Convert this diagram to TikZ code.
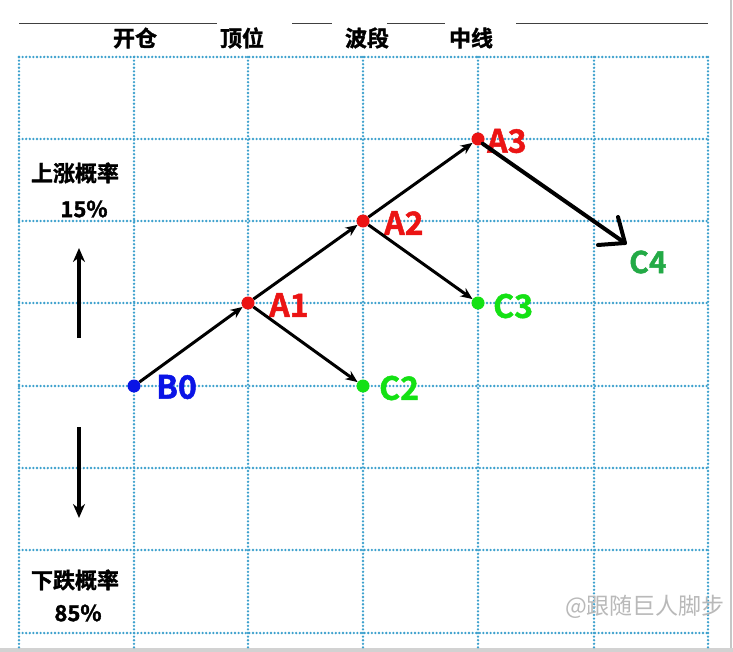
\documentclass[tikz,border=0pt]{standalone}
\usepackage{fontspec}
\setmainfont{Noto Sans CJK SC}[BoldFont={Noto Sans CJK SC Bold}, BoldFeatures={FakeBold=1.5}]
\usetikzlibrary{arrows.meta}
\definecolor{gridblue}{RGB}{60,160,205}
\definecolor{ptred}{RGB}{235,20,20}
\definecolor{ptgreen}{RGB}{20,225,20}
\definecolor{cfour}{RGB}{35,170,70}
\definecolor{ptblue}{RGB}{10,20,230}
\tikzset{
  griddot/.style={draw=gridblue, line width=2.6pt, dash pattern=on 0pt off 3.6pt, line cap=round},
  pt/.style={circle, inner sep=0pt, minimum size=13pt, draw=none},
  lbl/.style={font=\bfseries\fontsize{32}{33}\selectfont, inner sep=0pt, anchor=west},
  head/.style={font=\bfseries\fontsize{22}{23}\selectfont, inner sep=0pt},
  side/.style={font=\bfseries\fontsize{22}{23}\selectfont, inner sep=0pt},
  arr/.style={draw=black, line width=3pt, -{Stealth[length=12pt,width=10pt]}},
  varr/.style={draw=black, line width=3.6pt, -{Stealth[length=14pt,width=12pt]}},
}
\begin{document}
\begin{tikzpicture}[x=1pt,y=-1pt]
\useasboundingbox (0,0) rectangle (733,652);
\fill[white] (0,0) rectangle (733,652);
% frame edges
\draw[gray!45, line width=2pt] (731,0) -- (731,652);
\fill[gray!35] (0,648) rectangle (733,652);
% header lines
\draw[black!75, line width=1pt] (19,24) -- (217,24);
\draw[black!75, line width=1pt] (292,24) -- (332,24);
\draw[black!75, line width=1pt] (387,24) -- (445,24);
\draw[black!75, line width=1pt] (516,24) -- (708,24);
% grid
\foreach \x in {19,134,248,363,478,594,708} \draw[griddot] (\x,57) -- (\x,648);
\foreach \y in {57,139,221,303,386,468,550,633} \draw[griddot] (19,\y) -- (708,\y);
% header text
\node[head] (h1) at (135,38) {开仓};
\node[head] (h2) at (242,38) {顶位};
\node[head] (h3) at (367,38) {波段};
\node[head] (h4) at (471,38) {中线};
% side texts
\node[side] (up) at (75,173) {上涨概率};
\node[side] (upp) at (84,209) {15\%};
\node[side] (dn) at (75,580) {下跌概率};
\node[side] (dnp) at (78,613) {85\%};
\coordinate (u0) at (79,338);
\coordinate (u1) at (79,248);
\coordinate (d0) at (79,427);
\coordinate (d1) at (79,518);
\draw[varr] (u0) -- (u1);
\draw[varr] (d0) -- (d1);
% points
\node[pt, fill=ptblue] (B0) at (134,386) {};
\node[pt, fill=ptred] (A1) at (248,303) {};
\node[pt, fill=ptred] (A2) at (363,221) {};
\node[pt, fill=ptred] (A3) at (478,139) {};
\node[pt, fill=ptgreen] (C2) at (363,386) {};
\node[pt, fill=ptgreen] (C3) at (478,303) {};
% labels
\node[lbl, text=ptblue] (lB0) at (156,387) {B0};
\node[lbl, text=ptred] (lA1) at (269,305) {A1};
\node[lbl, text=ptred] (lA2) at (384,223) {A2};
\node[lbl, text=ptred] (lA3) at (487,141) {A3};
\node[lbl, text=ptgreen] (lC2) at (379,388) {C2};
\node[lbl, text=ptgreen] (lC3) at (493,306) {C3};
\node[lbl, text=cfour, font=\bfseries\fontsize{30}{31}\selectfont] (lC4) at (629,262) {C4};
% arrows
\draw[arr] (B0) -- (A1);
\draw[arr] (A1) -- (A2);
\draw[arr] (A2) -- (A3);
\draw[arr] (A1) -- (C2);
\draw[arr] (A2) -- (C3);
\coordinate (c4tip) at (625,243);
\draw[black, line width=4pt, line cap=round] (A3.south east) -- (c4tip);
\draw[black, line width=4pt, line cap=round, line join=round] ([shift={(-7,-26)}]c4tip) -- (c4tip) -- ([shift={(-27,2)}]c4tip);
% watermark
\node[font=\fontsize{23}{24}\selectfont, text=gray!55, anchor=west, inner sep=0pt] (wm) at (565,607) {@跟随巨人脚步};
\end{tikzpicture}
\end{document}
